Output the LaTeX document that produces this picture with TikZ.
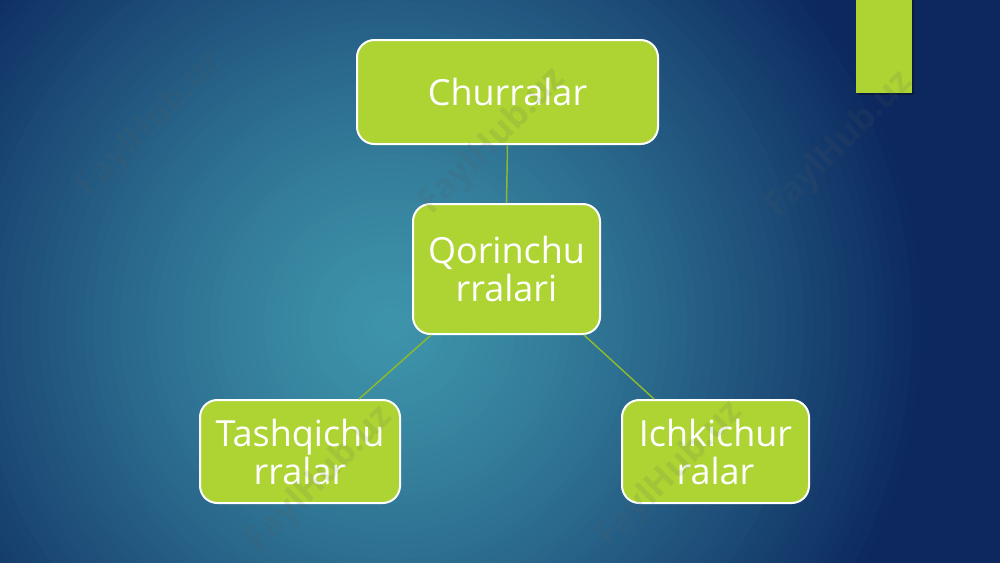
\documentclass[tikz,border=0pt]{standalone}
\usepackage{fontspec}
\setmainfont{Open Sans}
\usetikzlibrary{calc}
\definecolor{leaf}{RGB}{173,212,51}
\definecolor{linkc}{RGB}{140,185,45}
\definecolor{bgdark}{RGB}{12,40,94}
\definecolor{bglight}{RGB}{62,148,171}
\definecolor{wmgray}{RGB}{90,90,90}
\begin{document}
\begin{tikzpicture}[x=0.75pt,y=-0.75pt,
  box/.style={draw=white, line width=1.5pt, fill=leaf, rounded corners=13pt,
    text=white, font=\fontsize{27}{28.5}\selectfont, align=center, inner sep=0pt},
  linkline/.style={draw=linkc, line width=1.1pt},
  wm/.style={rotate=45, font=\bfseries\fontsize{26}{26}\selectfont, text=wmgray, opacity=0.13}]
\useasboundingbox (0,0) rectangle (1000,562);
\begin{scope}
  \clip (0,0) rectangle (1000,562);
  \fill[bgdark] (-5,-5) rectangle (1005,567);
  \foreach \k in {60,59,...,1} {
    \pgfmathsetmacro\p{100*(1-(\k/60)^1.3)}
    \fill[bglight!\p!bgdark] (390,325) circle[radius=\k*6.75pt];
  }
\end{scope}
% top right accent bar
\fill[black,opacity=0.3] (858,0) rectangle (914,95);
\fill[leaf] (856,0) rectangle (912,93);
% nodes
\node[box, minimum width=225.75pt, minimum height=78pt] (c) at (507.5,92) {Churralar};
\node[box, minimum width=140.25pt, minimum height=97.5pt] (q) at (506.5,269) {Qorinchu\\rralari};
\node[box, minimum width=150pt, minimum height=77.25pt] (t) at (300,451.5) {Tashqichu\\rralar};
\node[box, minimum width=140.25pt, minimum height=77.25pt] (i) at (715.5,451.5) {Ichkichur\\ralar};
% connectors
\draw[linkline] (c.south) -- (q.north);
\draw[linkline] ([xshift=14.25pt]q.south west) -- ([xshift=120pt]t.north west);
\draw[linkline] ([xshift=-12.75pt]q.south east) -- ([xshift=24.75pt]i.north west);
% watermarks
\node[wm] (w1) at (150,125) {FaylHub.uz};
\node[wm] (w2) at (493,142) {FaylHub.uz};
\node[wm] (w3) at (840,145) {FaylHub.uz};
\node[wm] (w4) at (320,480) {FaylHub.uz};
\node[wm] (w5) at (670,475) {FaylHub.uz};
\end{tikzpicture}
\end{document}
